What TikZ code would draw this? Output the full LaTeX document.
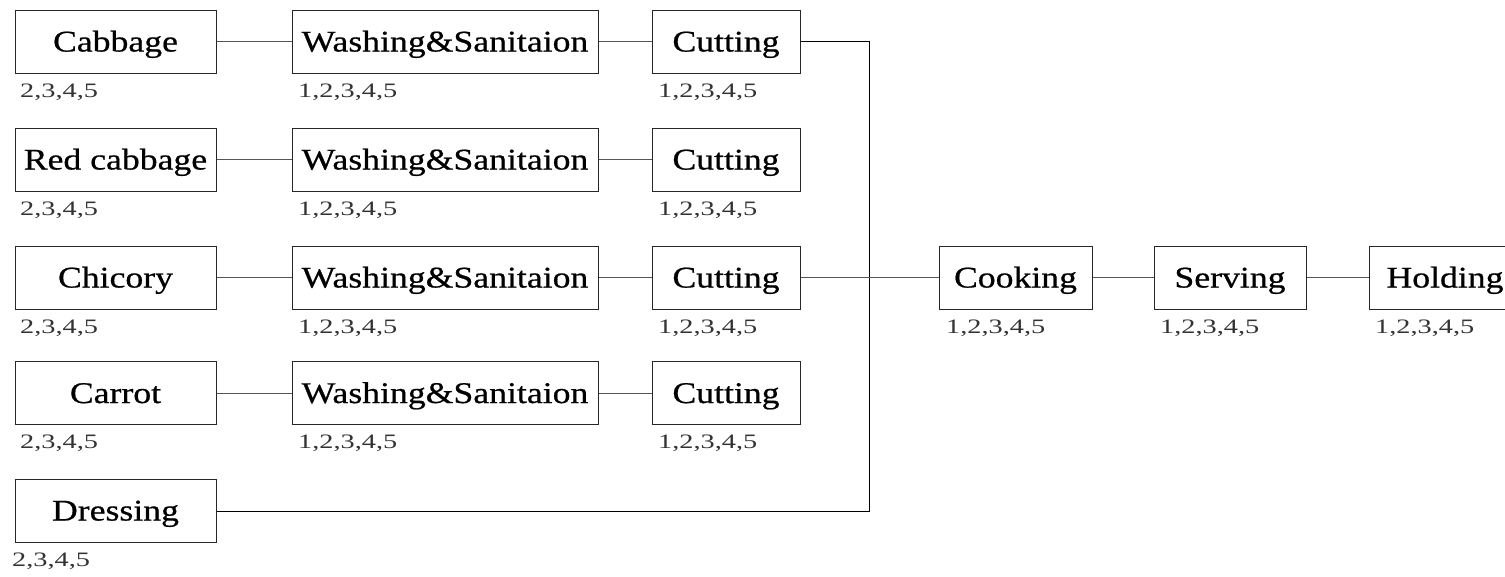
\documentclass[tikz,border=0pt]{standalone}
\usepackage{fontspec}
\setmainfont{Liberation Serif}
\newfontfamily\boxfont[FakeStretch=1.19,FakeBold=0.6]{Liberation Serif}
\newfontfamily\labfont[FakeStretch=1.38]{Liberation Serif}
\definecolor{linegray}{HTML}{555555}
\definecolor{labgray}{HTML}{333333}
\tikzset{
  procbox/.style={draw=black!85, line width=1pt, inner sep=0pt, minimum height=63pt,
    text height=20pt, text depth=-3pt,
    font=\boxfont\fontsize{30}{31}\selectfont, text=black},
  numlab/.style={anchor=base west, inner sep=0pt, text=labgray,
    font=\labfont\fontsize{20.5}{22}\selectfont},
  conn/.style={draw=linegray, line width=1pt},
  trunk/.style={draw=black, line width=1pt}
}
\begin{document}
\begin{tikzpicture}[x=1pt,y=-1pt]
\useasboundingbox (0,0) rectangle (1505,576);
\clip (0,0) rectangle (1505,576);
\fill[white] (0,0) rectangle (1505,576);
% column 1
\node[procbox, minimum width=201pt] (cab) at (115.5,41.5) {Cabbage};
\node[procbox, minimum width=201pt] (red) at (115.5,159.5) {Red cabbage};
\node[procbox, minimum width=201pt] (chi) at (115.5,277.5) {Chicory};
\node[procbox, minimum width=201pt] (car) at (115.5,393) {Carrot};
\node[procbox, minimum width=201pt] (dre) at (115.5,510.5) {Dressing};
% column 2
\node[procbox, minimum width=306pt] (w1) at (445,41.5) {Washing\&Sanitaion};
\node[procbox, minimum width=306pt] (w2) at (445,159.5) {Washing\&Sanitaion};
\node[procbox, minimum width=306pt] (w3) at (445,277.5) {Washing\&Sanitaion};
\node[procbox, minimum width=306pt] (w4) at (445,393) {Washing\&Sanitaion};
% column 3
\node[procbox, minimum width=148pt] (c1) at (726,41.5) {Cutting};
\node[procbox, minimum width=148pt] (c2) at (726,159.5) {Cutting};
\node[procbox, minimum width=148pt] (c3) at (726,277.5) {Cutting};
\node[procbox, minimum width=148pt] (c4) at (726,393) {Cutting};
% right chain
\node[procbox, minimum width=153pt] (cook) at (1015.5,277.5) {Cooking};
\node[procbox, minimum width=152pt] (serv) at (1230,277.5) {Serving};
\node[procbox, minimum width=152pt] (hold) at (1445,277.5) {Holding};
% labels
\node[numlab] (lcab) at (20,97) {2,3,4,5};
\node[numlab] (lred) at (20,215) {2,3,4,5};
\node[numlab] (lchi) at (20,333) {2,3,4,5};
\node[numlab] (lcar) at (20,448.5) {2,3,4,5};
\node[numlab] (ldre) at (12,566) {2,3,4,5};
\node[numlab] (lw1) at (298,97) {1,2,3,4,5};
\node[numlab] (lw2) at (298,215) {1,2,3,4,5};
\node[numlab] (lw3) at (298,333) {1,2,3,4,5};
\node[numlab] (lw4) at (298,448.5) {1,2,3,4,5};
\node[numlab] (lc1) at (658,97) {1,2,3,4,5};
\node[numlab] (lc2) at (658,215) {1,2,3,4,5};
\node[numlab] (lc3) at (658,333) {1,2,3,4,5};
\node[numlab] (lc4) at (658,448.5) {1,2,3,4,5};
\node[numlab] (lcook) at (946,333) {1,2,3,4,5};
\node[numlab] (lserv) at (1160,333) {1,2,3,4,5};
\node[numlab] (lhold) at (1375,333) {1,2,3,4,5};
% connectors
\draw[conn] (cab) -- (w1);
\draw[conn] (red) -- (w2);
\draw[conn] (chi) -- (w3);
\draw[conn] (car) -- (w4);
\draw[conn] (w1) -- (c1);
\draw[conn] (w2) -- (c2);
\draw[conn] (w3) -- (c3);
\draw[conn] (w4) -- (c4);
\coordinate (jt) at (869,41.5);
\coordinate (jm) at (869,277.5);
\coordinate (jb) at (869,511);
\draw[trunk] (c1.east) -- (jt) -- (jb) -- (dre.east |- jb);
\draw[conn] (c3.east) -- (jm);
\draw[conn] (jm) -- (cook.west);
\draw[conn] (cook) -- (serv);
\draw[conn] (serv) -- (hold);
\end{tikzpicture}
\end{document}
